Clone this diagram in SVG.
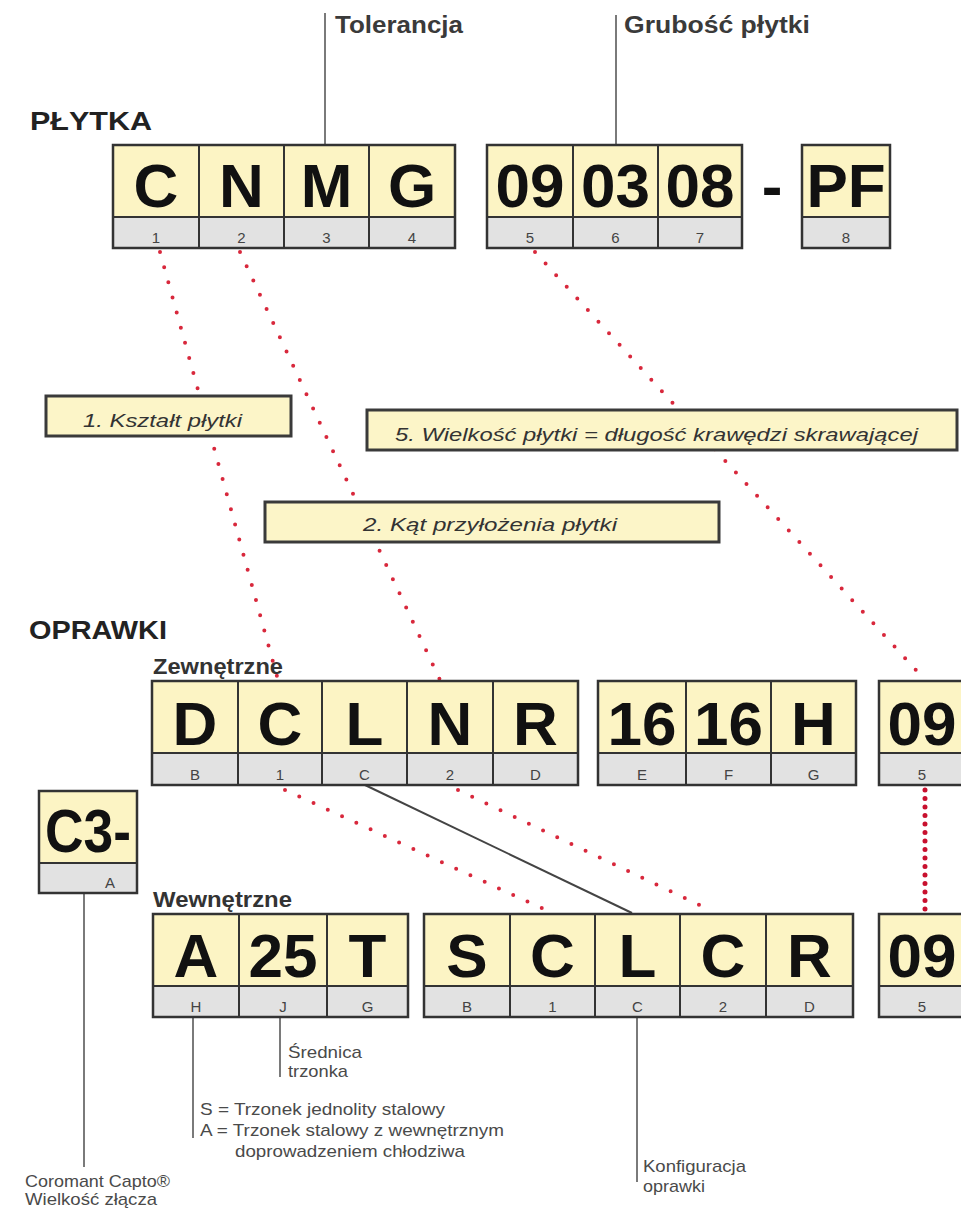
<svg xmlns="http://www.w3.org/2000/svg" width="961" height="1210" viewBox="0 0 961 1210">
<style>
  .y{fill:#fcf4c4;stroke:#333;stroke-width:2}
  .g{fill:#e2e2e2;stroke:#333;stroke-width:2}
  .fr{fill:none;stroke:#333;stroke-width:2.5}
  .big{font-family:"Liberation Sans",Arial,sans-serif;font-weight:bold;font-size:62px;fill:#111;text-anchor:middle}
  .idx{font-family:"Liberation Sans",Arial,sans-serif;font-size:15px;fill:#444;text-anchor:middle}
  .title{font-family:"Liberation Sans",Arial,sans-serif;font-weight:bold;font-size:26px;fill:#222}
  .sub{font-family:"Liberation Sans",Arial,sans-serif;font-weight:bold;font-size:22px;fill:#333}
  .head{font-family:"Liberation Sans",Arial,sans-serif;font-weight:bold;font-size:23px;fill:#3a3a3a}
  .note{font-family:"Liberation Sans",Arial,sans-serif;font-size:17px;fill:#4a4a4a}
  .lbox{fill:#fcf5c8;stroke:#3a3a3a;stroke-width:3}
  .ltxt{font-family:"Liberation Sans",Arial,sans-serif;font-style:italic;font-size:19px;fill:#333}
  .lead{stroke:#7a7a7a;stroke-width:2;fill:none}
  .solid{stroke:#444;stroke-width:2;fill:none}
  .red{stroke:#d8283c;stroke-width:4;stroke-linecap:round;stroke-dasharray:0 15.7;fill:none}
  .redd{stroke:#c8102e;stroke-width:5;stroke-linecap:round;stroke-dasharray:0 8.5;fill:none}
</style>

<g id="connectors">
  <line class="lead" x1="325" y1="13" x2="325" y2="145"/>
  <line class="lead" x1="616" y1="15" x2="616" y2="145"/>
  <line class="lead" x1="84" y1="893" x2="84" y2="1167"/>
  <line class="lead" x1="193" y1="1017" x2="193" y2="1138"/>
  <line class="lead" x1="280" y1="1017" x2="280" y2="1077"/>
  <line class="lead" x1="637" y1="1017" x2="637" y2="1182"/>
  <line class="solid" x1="365" y1="785" x2="632" y2="913"/>
  <line class="red" x1="160" y1="252" x2="278" y2="680"/>
  <line class="red" x1="240" y1="252" x2="440" y2="680"/>
  <line class="red" x1="535" y1="252" x2="925" y2="680"/>
  <line class="red" x1="285" y1="790" x2="548" y2="911"/>
  <line class="red" x1="458" y1="790" x2="712" y2="911"/>
  <line class="redd" x1="925" y1="790" x2="925" y2="911"/>
</g>

<g id="titles">
  <text class="title" x="30" y="130" textLength="122" lengthAdjust="spacingAndGlyphs">PŁYTKA</text>
  <text class="title" x="29" y="639" textLength="138" lengthAdjust="spacingAndGlyphs">OPRAWKI</text>
  <text class="sub" x="153" y="674" textLength="130" lengthAdjust="spacingAndGlyphs">Zewnętrzne</text>
  <text class="sub" x="153" y="907" textLength="139" lengthAdjust="spacingAndGlyphs">Wewnętrzne</text>
  <text class="head" x="335" y="33" textLength="128" lengthAdjust="spacingAndGlyphs">Tolerancja</text>
  <text class="head" x="624" y="33" textLength="186" lengthAdjust="spacingAndGlyphs">Grubość płytki</text>
</g>

<g id="insert-cnmg">
  <rect class="y" x="113" y="145" width="86" height="72"/><rect class="g" x="113" y="217" width="86" height="31"/>
  <rect class="y" x="199" y="145" width="85" height="72"/><rect class="g" x="199" y="217" width="85" height="31"/>
  <rect class="y" x="284" y="145" width="85" height="72"/><rect class="g" x="284" y="217" width="85" height="31"/>
  <rect class="y" x="369" y="145" width="86" height="72"/><rect class="g" x="369" y="217" width="86" height="31"/>
  <rect class="fr" x="113" y="145" width="342" height="103"/>
  <text class="big" x="156" y="207">C</text><text class="big" x="241.5" y="207">N</text><text class="big" x="326.5" y="207">M</text><text class="big" x="412" y="207">G</text>
  <text class="idx" x="156" y="243">1</text><text class="idx" x="241.5" y="243">2</text><text class="idx" x="326.5" y="243">3</text><text class="idx" x="412" y="243">4</text>
</g>

<g id="insert-090308">
  <rect class="y" x="487" y="145" width="86" height="72"/><rect class="g" x="487" y="217" width="86" height="31"/>
  <rect class="y" x="573" y="145" width="85" height="72"/><rect class="g" x="573" y="217" width="85" height="31"/>
  <rect class="y" x="658" y="145" width="84" height="72"/><rect class="g" x="658" y="217" width="84" height="31"/>
  <rect class="fr" x="487" y="145" width="255" height="103"/>
  <text class="big" x="530" y="207">09</text><text class="big" x="615.5" y="207">03</text><text class="big" x="700" y="207">08</text>
  <text class="idx" x="530" y="243">5</text><text class="idx" x="615.5" y="243">6</text><text class="idx" x="700" y="243">7</text>
</g>

<g id="insert-dash">
  <text class="big" x="772" y="207">-</text>
</g>

<g id="insert-pf">
  <rect class="y" x="802" y="145" width="88" height="72"/><rect class="g" x="802" y="217" width="88" height="31"/>
  <rect class="fr" x="802" y="145" width="88" height="103"/>
  <text class="big" x="846" y="207">PF</text>
  <text class="idx" x="846" y="243">8</text>
</g>

<g id="label-1">
  <rect class="lbox" x="46" y="396" width="245" height="40"/>
  <text class="ltxt" x="83" y="427" textLength="159" lengthAdjust="spacingAndGlyphs">1. Kształt płytki</text>
</g>
<g id="label-5">
  <rect class="lbox" x="367" y="410" width="590" height="40"/>
  <text class="ltxt" x="395" y="441" textLength="523" lengthAdjust="spacingAndGlyphs">5. Wielkość płytki = długość krawędzi skrawającej</text>
</g>
<g id="label-2">
  <rect class="lbox" x="265" y="502" width="454" height="40"/>
  <text class="ltxt" x="363" y="531" textLength="254" lengthAdjust="spacingAndGlyphs">2. Kąt przyłożenia płytki</text>
</g>

<g id="ext-dclnr">
  <rect class="y" x="152" y="681" width="86" height="72"/><rect class="g" x="152" y="753" width="86" height="32"/>
  <rect class="y" x="238" y="681" width="84" height="72"/><rect class="g" x="238" y="753" width="84" height="32"/>
  <rect class="y" x="322" y="681" width="85" height="72"/><rect class="g" x="322" y="753" width="85" height="32"/>
  <rect class="y" x="407" y="681" width="86" height="72"/><rect class="g" x="407" y="753" width="86" height="32"/>
  <rect class="y" x="493" y="681" width="85" height="72"/><rect class="g" x="493" y="753" width="85" height="32"/>
  <rect class="fr" x="152" y="681" width="426" height="104"/>
  <text class="big" x="195" y="745">D</text><text class="big" x="280" y="745">C</text><text class="big" x="364.5" y="745">L</text><text class="big" x="450" y="745">N</text><text class="big" x="535.5" y="745">R</text>
  <text class="idx" x="195" y="780">B</text><text class="idx" x="280" y="780">1</text><text class="idx" x="364.5" y="780">C</text><text class="idx" x="450" y="780">2</text><text class="idx" x="535.5" y="780">D</text>
</g>

<g id="ext-1616h">
  <rect class="y" x="598" y="681" width="88" height="72"/><rect class="g" x="598" y="753" width="88" height="32"/>
  <rect class="y" x="686" y="681" width="85" height="72"/><rect class="g" x="686" y="753" width="85" height="32"/>
  <rect class="y" x="771" y="681" width="85" height="72"/><rect class="g" x="771" y="753" width="85" height="32"/>
  <rect class="fr" x="598" y="681" width="258" height="104"/>
  <text class="big" x="642" y="745">16</text><text class="big" x="728.5" y="745">16</text><text class="big" x="813.5" y="745">H</text>
  <text class="idx" x="642" y="780">E</text><text class="idx" x="728.5" y="780">F</text><text class="idx" x="813.5" y="780">G</text>
</g>

<g id="ext-09">
  <rect class="y" x="879" y="681" width="87" height="72"/><rect class="g" x="879" y="753" width="87" height="32"/>
  <rect class="fr" x="879" y="681" width="87" height="104"/>
  <text class="big" x="922" y="745">09</text>
  <text class="idx" x="922" y="780">5</text>
</g>

<g id="capto-c3">
  <rect class="y" x="39" y="791" width="98" height="72"/><rect class="g" x="39" y="863" width="98" height="30"/>
  <rect class="fr" x="39" y="791" width="98" height="102"/>
  <text class="big" x="45" y="852" style="text-anchor:start" textLength="86" lengthAdjust="spacingAndGlyphs">C3-</text>
  <text class="idx" x="110" y="888">A</text>
</g>

<g id="int-a25t">
  <rect class="y" x="153" y="914" width="86" height="72"/><rect class="g" x="153" y="986" width="86" height="31"/>
  <rect class="y" x="239" y="914" width="88" height="72"/><rect class="g" x="239" y="986" width="88" height="31"/>
  <rect class="y" x="327" y="914" width="81" height="72"/><rect class="g" x="327" y="986" width="81" height="31"/>
  <rect class="fr" x="153" y="914" width="255" height="103"/>
  <text class="big" x="196" y="977">A</text><text class="big" x="283" y="977">25</text><text class="big" x="367.5" y="977">T</text>
  <text class="idx" x="196" y="1012">H</text><text class="idx" x="283" y="1012">J</text><text class="idx" x="367.5" y="1012">G</text>
</g>

<g id="int-sclcr">
  <rect class="y" x="424" y="914" width="86" height="72"/><rect class="g" x="424" y="986" width="86" height="31"/>
  <rect class="y" x="510" y="914" width="85" height="72"/><rect class="g" x="510" y="986" width="85" height="31"/>
  <rect class="y" x="595" y="914" width="85" height="72"/><rect class="g" x="595" y="986" width="85" height="31"/>
  <rect class="y" x="680" y="914" width="86" height="72"/><rect class="g" x="680" y="986" width="86" height="31"/>
  <rect class="y" x="766" y="914" width="87" height="72"/><rect class="g" x="766" y="986" width="87" height="31"/>
  <rect class="fr" x="424" y="914" width="429" height="103"/>
  <text class="big" x="467" y="977">S</text><text class="big" x="552.5" y="977">C</text><text class="big" x="637.5" y="977">L</text><text class="big" x="723" y="977">C</text><text class="big" x="809.5" y="977">R</text>
  <text class="idx" x="467" y="1012">B</text><text class="idx" x="552.5" y="1012">1</text><text class="idx" x="637.5" y="1012">C</text><text class="idx" x="723" y="1012">2</text><text class="idx" x="809.5" y="1012">D</text>
</g>

<g id="int-09">
  <rect class="y" x="879" y="914" width="87" height="72"/><rect class="g" x="879" y="986" width="87" height="31"/>
  <rect class="fr" x="879" y="914" width="87" height="103"/>
  <text class="big" x="922" y="977">09</text>
  <text class="idx" x="922" y="1012">5</text>
</g>

<g id="notes">
  <text class="note" x="288" y="1058" textLength="74" lengthAdjust="spacingAndGlyphs">Średnica</text>
  <text class="note" x="288" y="1077" textLength="60" lengthAdjust="spacingAndGlyphs">trzonka</text>
  <text class="note" x="200" y="1115" textLength="245" lengthAdjust="spacingAndGlyphs">S = Trzonek jednolity stalowy</text>
  <text class="note" x="200" y="1136" textLength="304" lengthAdjust="spacingAndGlyphs">A = Trzonek stalowy z wewnętrznym</text>
  <text class="note" x="235" y="1157" textLength="230" lengthAdjust="spacingAndGlyphs">doprowadzeniem chłodziwa</text>
  <text class="note" x="25" y="1187" textLength="145" lengthAdjust="spacingAndGlyphs">Coromant Capto®</text>
  <text class="note" x="25" y="1205" textLength="132" lengthAdjust="spacingAndGlyphs">Wielkość złącza</text>
  <text class="note" x="643" y="1172" textLength="103" lengthAdjust="spacingAndGlyphs">Konfiguracja</text>
  <text class="note" x="643" y="1192" textLength="62" lengthAdjust="spacingAndGlyphs">oprawki</text>
</g>
</svg>
